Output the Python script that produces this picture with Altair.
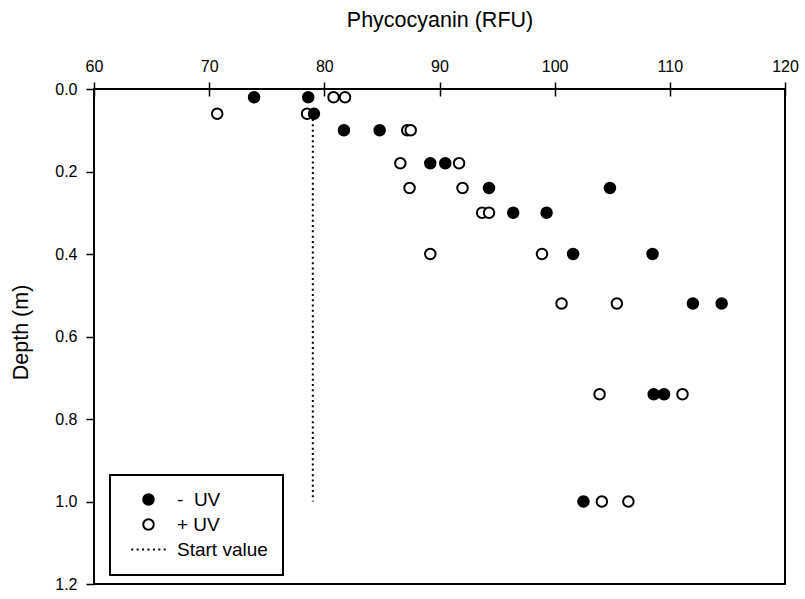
import altair as alt
import pandas as pd

# ---- data ----
depth_minus = [0.02, 0.02, 0.06, 0.10, 0.10, 0.18, 0.18, 0.24, 0.24, 0.30, 0.30,
               0.40, 0.40, 0.52, 0.52, 0.74, 0.74, 1.00]
pc_minus = [73.9, 78.6, 79.1, 81.7, 84.8, 89.2, 90.5, 94.3, 104.8, 96.4, 99.3,
            101.6, 108.5, 112.0, 114.5, 108.6, 109.5, 102.5]

depth_plus = [0.02, 0.02, 0.06, 0.06, 0.10, 0.10, 0.18, 0.18, 0.24, 0.24, 0.30, 0.30,
              0.40, 0.40, 0.52, 0.52, 0.74, 0.74, 1.00, 1.00]
pc_plus = [80.8, 81.8, 70.7, 78.5, 87.2, 87.5, 86.6, 91.7, 87.4, 92.0, 93.7, 94.3,
           89.2, 98.9, 100.6, 105.4, 103.9, 111.1, 104.1, 106.4]

start_value = [79.0]
start_depth_top = [0.06]
start_depth_bottom = [1.00]

series_labels = ["-\u00a0 UV", "+ UV", "Start value"]
x_ticks = [60, 70, 80, 90, 100, 110, 120]
y_ticks = [0.0, 0.2, 0.4, 0.6, 0.8, 1.0, 1.2]

# ---- tables ----
df_minus = pd.DataFrame({"pc": pc_minus, "depth": depth_minus, "series": series_labels[0]})
df_plus = pd.DataFrame({"pc": pc_plus, "depth": depth_plus, "series": series_labels[1]})
df_start = pd.DataFrame({"pc": start_value, "d1": start_depth_top, "d2": start_depth_bottom})

FONT = "Liberation Sans"
TICK_FS = 16

# dotted-line legend glyph (unit path, scaled by the symbol size)
dots = []
for i in range(7):
    c = -3.1 + i * 1.033
    dots.append(f"M{c - 0.19:.3f},0h0.38")
dotted_path = "".join(dots)

x_scale = alt.Scale(domain=[60, 120], nice=False, zero=False)
y_scale = alt.Scale(domain=[0, 1.2], nice=False, zero=False, reverse=True)

x_axis = alt.Axis(orient="top", values=x_ticks, title="Phycocyanin (RFU)",
                  domain=False, tickSize=14, offset=-7, labelFontSize=TICK_FS,
                  labelFlush=False, labelPadding=8, titleY=-70,
                  titleBaseline="alphabetic", grid=False)
y_axis = alt.Axis(values=y_ticks, format=".1f", title="Depth (m)",
                  domain=False, tickSize=8, labelPadding=9, labelFontSize=TICK_FS,
                  labelFlush=False,
                  titleAngle=-90, titleX=-67, titleY=243, titleBaseline="alphabetic",
                  titleAlign="center", grid=False)

legend = alt.Legend(title=None, orient="none", legendX=16, legendY=386,
                    strokeColor="black", fillColor="white", padding=15,
                    symbolOffset=14, labelOffset=19, labelFontSize=19, labelColor="black",
                    symbolSize=110, symbolStrokeWidth=2, symbolStrokeColor="black",
                    rowPadding=5, labelFont=FONT)

shape_enc = alt.Shape("series:N", scale=alt.Scale(domain=series_labels,
                      range=["circle", "circle", dotted_path]), legend=legend)
fill_enc = alt.Fill("series:N", scale=alt.Scale(domain=series_labels,
                    range=["black", "white", "white"]), legend=legend)
stroke_enc = alt.Stroke("series:N", scale=alt.Scale(domain=series_labels,
                        range=["black", "black", "black"]), legend=legend)

rule = alt.Chart(df_start).mark_rule(color="black", strokeWidth=2, strokeDash=[2, 3.3]).encode(
    x=alt.X("pc:Q", scale=x_scale, axis=x_axis),
    y=alt.Y("d1:Q", scale=y_scale, axis=y_axis),
    y2="d2:Q",
)

def pts(df):
    return alt.Chart(df).mark_point(shape="circle", size=110, strokeWidth=2,
                                    opacity=1, fillOpacity=1).encode(
        x=alt.X("pc:Q", scale=x_scale, axis=x_axis),
        y=alt.Y("depth:Q", scale=y_scale, axis=y_axis),
        shape=shape_enc,
        fill=fill_enc,
        stroke=stroke_enc,
    )

chart = alt.layer(rule, pts(df_plus), pts(df_minus)).properties(
    width=691, height=495,
    autosize=alt.AutoSizeParams(type="none"),
    padding={"left": 94, "top": 89, "right": 20, "bottom": 15},
).configure(
    font=FONT,
    style={"guide-label": {"fontSize": TICK_FS, "font": FONT, "fill": "black"}},
).configure_view(
    stroke="black", strokeWidth=2
).configure_axis(
    labelFontSize=TICK_FS, labelColor="black", labelFont=FONT, labelFlush=False,
    titleFontSize=21.5, titleFontWeight="normal", titleColor="black", titleFont=FONT,
    tickColor="black", tickWidth=1.5,
).configure_legend(strokeWidth=2, cornerRadius=0)

chart.save("out.html", embed_options={"renderer": "svg", "actions": False})
